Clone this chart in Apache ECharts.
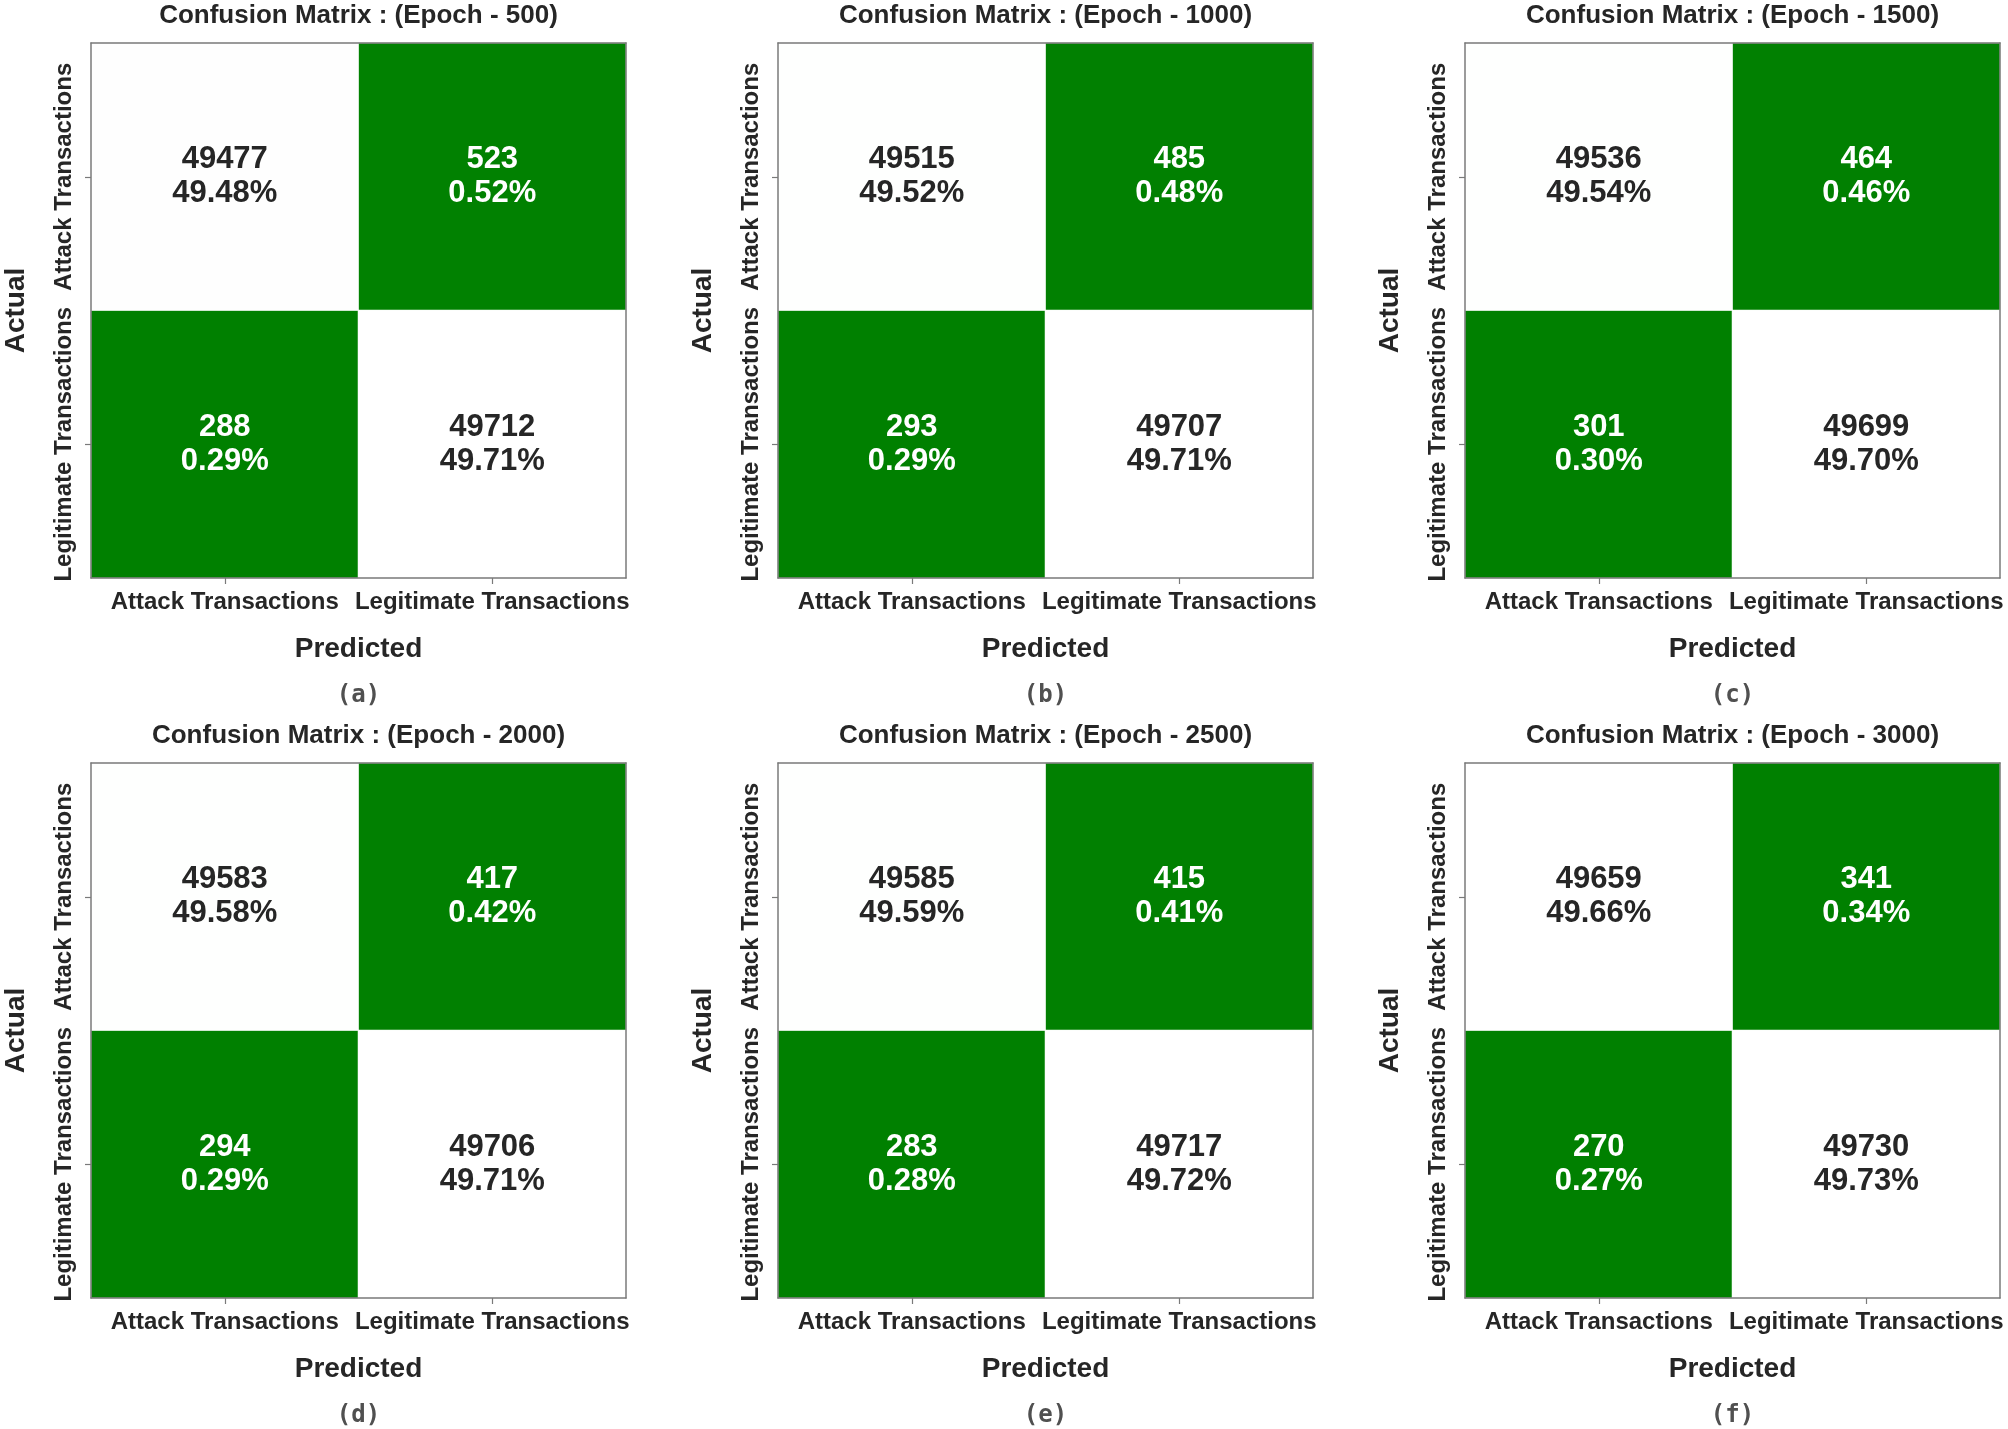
<!DOCTYPE html>
<html>
<head>
<meta charset="utf-8">
<script src="https://cdn.jsdelivr.net/npm/echarts@6/dist/echarts.min.js"></script>
<style>
html,body{margin:0;padding:0;background:#ffffff;}
#chart{width:2008px;height:1429px;}
</style>
</head>
<body>
<div id="chart"></div>
<script>
// ---- data ----
const epochs = [500, 1000, 1500, 2000, 2500, 3000];
const panelTags = ['(a)', '(b)', '(c)', '(d)', '(e)', '(f)'];
const classes = ['Attack Transactions', 'Legitimate Transactions'];

// actual Attack -> predicted Attack / Legitimate
const attackAsAttack = [49477, 49515, 49536, 49583, 49585, 49659];
const attackAsLegit  = [523, 485, 464, 417, 415, 341];
// actual Legitimate -> predicted Attack / Legitimate
const legitAsAttack  = [288, 293, 301, 294, 283, 270];
const legitAsLegit   = [49712, 49707, 49699, 49706, 49717, 49730];

// percentages printed in the cells
const pctAttackAsAttack = ['49.48', '49.52', '49.54', '49.58', '49.59', '49.66'];
const pctAttackAsLegit  = ['0.52', '0.48', '0.46', '0.42', '0.41', '0.34'];
const pctLegitAsAttack  = ['0.29', '0.29', '0.30', '0.29', '0.28', '0.27'];
const pctLegitAsLegit   = ['49.71', '49.71', '49.70', '49.71', '49.72', '49.73'];

// ---- layout / style ----
const FONT = '"Liberation Sans", Arial, Helvetica, sans-serif';
const DARK = '#262626';
const LINE = '#7a7a7a';
const colLeft = [91, 778, 1465];
const rowTop = [43, 763];
const SIZE = 535;

const chart = echarts.init(document.getElementById('chart'), null, {renderer: 'canvas'});

const grids = [], xAxes = [], yAxes = [], series = [], visualMaps = [], titles = [];

epochs.forEach(function (ep, i) {
  const left = colLeft[i % 3];
  const top = rowTop[Math.floor(i / 3)];
  const cx = left + SIZE / 2;

  grids.push({left: left, top: top, width: SIZE, height: SIZE, containLabel: false, outerBoundsMode: 'none'});

  titles.push({
    text: 'Confusion Matrix : (Epoch - ' + ep + ')',
    left: cx, top: top - 40, textAlign: 'center', padding: 0,
    textStyle: {fontFamily: FONT, fontSize: 26, fontWeight: 'bold', color: DARK}
  });
  titles.push({
    text: panelTags[i],
    left: cx, top: top + 641, textAlign: 'center', padding: 0,
    textStyle: {fontFamily: '"DejaVu Sans Mono", monospace', fontSize: 24, fontWeight: 'bold', color: '#505050'}
  });

  // bottom category axis
  xAxes.push({
    type: 'category', gridIndex: i, data: classes, position: 'bottom',
    name: 'Predicted', nameLocation: 'middle', nameGap: 57,
    nameTextStyle: {fontFamily: FONT, fontSize: 28, fontWeight: 'bold', color: DARK},
    axisLine: {show: true, lineStyle: {color: LINE, width: 1.5}},
    axisTick: {show: true, alignWithLabel: true, length: 6, lineStyle: {color: LINE, width: 1.2}},
    axisLabel: {show: true, interval: 0, margin: 12, fontFamily: FONT, fontSize: 24, fontWeight: 'bold', color: DARK, hideOverlap: false},
    splitLine: {show: false}, splitArea: {show: false}, z: 5
  });
  // top frame line
  xAxes.push({
    type: 'value', gridIndex: i, position: 'top', min: 0, max: 1,
    axisLine: {show: true, onZero: false, lineStyle: {color: LINE, width: 1.5}},
    axisTick: {show: false}, axisLabel: {show: false}, splitLine: {show: false}, z: 5
  });
  // left category axis
  yAxes.push({
    type: 'category', gridIndex: i, data: classes, inverse: true, position: 'left',
    name: 'Actual', nameLocation: 'middle', nameGap: 61,
    nameTextStyle: {fontFamily: FONT, fontSize: 28, fontWeight: 'bold', color: DARK},
    axisLine: {show: true, lineStyle: {color: LINE, width: 1.5}},
    axisTick: {show: true, alignWithLabel: true, length: 6, lineStyle: {color: LINE, width: 1.2}},
    axisLabel: {show: true, interval: 0, rotate: 90, margin: 15, fontFamily: FONT, fontSize: 24, fontWeight: 'bold', color: DARK, hideOverlap: false},
    splitLine: {show: false}, splitArea: {show: false}, z: 5
  });
  // right frame line
  yAxes.push({
    type: 'value', gridIndex: i, position: 'right', min: 0, max: 1,
    axisLine: {show: true, onZero: false, lineStyle: {color: LINE, width: 1.5}},
    axisTick: {show: false}, axisLabel: {show: false}, splitLine: {show: false}, z: 5
  });

  const counts = [attackAsAttack[i], attackAsLegit[i], legitAsAttack[i], legitAsLegit[i]];
  const pcts = [pctAttackAsAttack[i], pctAttackAsLegit[i], pctLegitAsAttack[i], pctLegitAsLegit[i]];
  const cells = [[0, 0], [1, 0], [0, 1], [1, 1]];
  const vmin = Math.min.apply(null, counts);
  const vmax = Math.max.apply(null, counts);
  const mid = (vmin + vmax) / 2;

  series.push({
    type: 'heatmap', xAxisIndex: 2 * i, yAxisIndex: 2 * i,
    data: cells.map(function (c, k) {
      return {
        value: [c[0], c[1], counts[k]],
        label: {color: counts[k] < mid ? '#ffffff' : DARK}
      };
    }),
    label: {
      show: true, fontFamily: FONT, fontSize: 31, fontWeight: 'bold', lineHeight: 34,
      formatter: function (p) { return counts[p.dataIndex] + '\n' + pcts[p.dataIndex] + '%'; }
    },
    itemStyle: {borderColor: '#ffffff', borderWidth: 1},
    emphasis: {disabled: true},
    silent: true
  });

  visualMaps.push({
    type: 'continuous', show: false, seriesIndex: i, dimension: 2,
    min: vmin, max: vmax, inRange: {color: ['#008000', '#ffffff']}
  });
});

chart.setOption({
  backgroundColor: '#ffffff',
  animation: false,
  title: titles,
  grid: grids,
  xAxis: xAxes,
  yAxis: yAxes,
  visualMap: visualMaps,
  series: series
});
</script>
</body>
</html>
